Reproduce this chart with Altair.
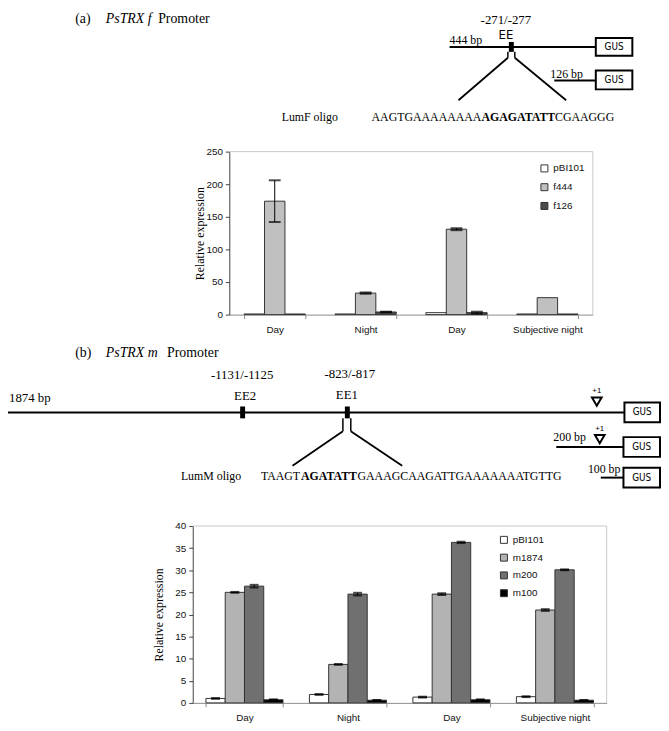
import altair as alt
import pandas as pd

# ------------------------------------------------------------------ data
conditions = ["D1", "N1", "D2", "SN"]
condition_names = ["Day", "Night", "Day", "Subjective night"]

# panel (a): PsTRX f promoter constructs
a_series = ["pBI101", "f444", "f126"]
a_pbi101 = [1, 1, 3, 1]
a_f444 = [174, 33, 131, 26]
a_f126 = [1, 4, 3, 1]
a_pbi101_err = [0, 0, 0, 0]
a_f444_err = [32, 1, 1.5, 0]
a_f126_err = [0, 0.5, 1.5, 0]
a_yticks = [0, 50, 100, 150, 200, 250]

# panel (b): PsTRX m promoter constructs
b_series = ["pBI101", "m1874", "m200", "m100"]
b_pbi101 = [1.0, 1.9, 1.3, 1.4]
b_m1874 = [25.0, 8.7, 24.6, 21.0]
b_m200 = [26.4, 24.6, 36.3, 30.1]
b_m100 = [0.7, 0.6, 0.7, 0.6]
b_pbi101_err = [0.1, 0.1, 0.1, 0.1]
b_m1874_err = [0.1, 0.1, 0.2, 0.2]
b_m200_err = [0.3, 0.3, 0.15, 0.1]
b_m100_err = [0.1, 0.05, 0.1, 0.05]
b_yticks = [0, 5, 10, 15, 20, 25, 30, 35, 40]

# diagram texts
head_a = ["(a)", "PsTRX f", "Promoter"]
head_b = ["(b)", "PsTRX m", "Promoter"]
seq_a = ["AAGTGAAAAAAAA", "AGAGATATT", "CGAAGGG"]
seq_b = ["TAAGT", "AGATATT", "GAAAGCAAGATTGAAAAAAATGTTG"]
seq_bold = [False, True, False]

# ------------------------------------------------------------------ styles / layout
W, H, M = 661, 715, 8
SERIF = "Liberation Serif, Times New Roman, serif"
SANS = "Liberation Sans, Arial, sans-serif"
NARROW = "Liberation Sans Narrow, DejaVu Sans Condensed, Liberation Sans, sans-serif"

label_expr = "".join(
    f"datum.value == '{c}' ? '{n}' : " for c, n in zip(conditions, condition_names)
) + "''"


def long_table(series, means, errs):
    rows = []
    for s, m, e in zip(series, means, errs):
        for c, v, d in zip(conditions, m, e):
            rows.append({"cond": c, "series": s, "value": v,
                         "lo": v - d, "hi": v + d, "err": d})
    return pd.DataFrame(rows)


df_a = long_table(a_series, [a_pbi101, a_f444, a_f126],
                  [a_pbi101_err, a_f444_err, a_f126_err])
df_b = long_table(b_series, [b_pbi101, b_m1874, b_m200, b_m100],
                  [b_pbi101_err, b_m1874_err, b_m200_err, b_m100_err])


def bar_chart(df, series, colors, xpix, ypix, ydom, yvals, pad, leg_xy,
              row_pad, title_cx, cap):
    left, right = xpix[0] - M, xpix[1] - M
    bottom, top = ypix[0] - M, ypix[1] - M
    xs = alt.Scale(domain=conditions, range=[left, right],
                   paddingInner=pad, paddingOuter=pad / 2)
    ys = alt.Scale(domain=ydom, range=[bottom, top], nice=False, zero=True)
    xaxis = alt.Axis(orient="bottom", offset=bottom - H, title=None,
                     labelExpr=label_expr, labelAngle=0, tickBand="extent",
                     tickSize=4, labelPadding=6, labelFont=SANS,
                     labelFontSize=10, labelColor="#111",
                     domainColor="#8a8a8a", tickColor="#8a8a8a", grid=False)
    yaxis = alt.Axis(orient="left", offset=-left, values=yvals,
                     title="Relative expression", titleFont=SERIF,
                     titleFontSize=12, titleFontWeight="normal",
                     titleColor="black", titleX=title_cx - xpix[0],
                     titleY=(top + bottom) / 2, titleAngle=270,
                     titleAlign="center", titleBaseline="middle",
                     tickSize=4, labelPadding=3, labelFont=SANS,
                     labelFontSize=10, labelColor="#111",
                     domainColor="#404040", tickColor="#404040", grid=False)
    X = alt.X("cond:N", scale=xs, sort=conditions, axis=xaxis)
    XO = alt.XOffset("series:N", scale=alt.Scale(domain=series), sort=series)

    frame = pd.DataFrame({"y0": [ydom[0]], "y1": [ydom[1]]})
    ftop = alt.Chart(frame).mark_rule(color="#c8c8c8", strokeWidth=1).encode(
        y=alt.Y("y1:Q", scale=ys, axis=yaxis),
        x=alt.value(left), x2=alt.value(right))
    fright = alt.Chart(frame).mark_rule(color="#c8c8c8", strokeWidth=1).encode(
        x=alt.value(right), y=alt.Y("y0:Q", scale=ys, axis=yaxis), y2="y1:Q")

    base = alt.Chart(df)
    bars = base.mark_bar(stroke="#333333", strokeWidth=1).encode(
        x=X, xOffset=XO, y=alt.Y("value:Q", scale=ys, axis=yaxis),
        color=alt.Color("series:N", sort=series,
                        scale=alt.Scale(domain=series, range=colors),
                        legend=alt.Legend(title=None, orient="none",
                                          legendX=leg_xy[0] - M,
                                          legendY=leg_xy[1] - M,
                                          symbolType="square", symbolSize=50,
                                          symbolStrokeColor="#333333",
                                          symbolStrokeWidth=1,
                                          labelFont=SANS, labelFontSize=10,
                                          labelColor="#111", rowPadding=row_pad,
                                          padding=0, labelOffset=4)))
    eb = base.transform_filter("datum.err > 0")
    rule = eb.mark_rule(color="black", strokeWidth=1).encode(
        x=X, xOffset=XO, y=alt.Y("lo:Q", scale=ys, axis=yaxis), y2="hi:Q")
    cap_hi = eb.mark_tick(color="black", size=cap, thickness=2).encode(
        x=X, xOffset=XO, y=alt.Y("hi:Q", scale=ys, axis=yaxis))
    cap_lo = eb.mark_tick(color="black", size=cap, thickness=2).encode(
        x=X, xOffset=XO, y=alt.Y("lo:Q", scale=ys, axis=yaxis))
    return alt.layer(ftop, fright, bars, rule, cap_lo, cap_hi)


chart_a = bar_chart(df_a, a_series, ["#ffffff", "#c0c0c0", "#4a4a4a"],
                    (232, 600), (314, 149), [0, 250], a_yticks, 0.326,
                    (546, 161), 7, 202, 12)
chart_b = bar_chart(df_b, b_series, ["#ffffff", "#b3b3b3", "#707070", "#000000"],
                    (195, 614), (707, 528), [0, 40], b_yticks, 0.255,
                    (505, 537), 6, 160, 9)

# ------------------------------------------------------------------ diagrams
CX = alt.Scale(domain=[0, 669], range=[-M, 669 - M], zero=False, nice=False)
CY = alt.Scale(domain=[0, 731], range=[-M, 731 - M], zero=False, nice=False)


def cx(f):
    return alt.X(f, scale=CX, axis=None)


def cy(f):
    return alt.Y(f, scale=CY, axis=None)


rules = pd.DataFrame([
    (455, 43, 603, 43, 2), (561, 77, 603, 77, 2),
    (514, 48, 514, 54, 1.5), (521, 48, 521, 54, 1.5),
    (514, 54, 464, 97, 1.8), (521, 54, 573, 97, 1.8),
    (0, 413, 632, 413, 2),
    (347, 419, 347, 432, 1.5), (355, 419, 355, 432, 1.5),
    (347, 432, 296, 467, 1.8), (355, 432, 407, 467, 1.8),
    (563, 448, 631, 448, 2), (608, 479, 631, 479, 2),
], columns=["x", "y", "x2", "y2", "w"])

rects = pd.DataFrame([
    (515, 38, 520, 48, "black", 0), (603, 34, 640, 52, "white", 2),
    (603, 67, 640, 86, "white", 2),
    (243, 407, 248, 419, "black", 0), (349, 407, 354, 419, "black", 0),
    (632, 403, 668, 423, "white", 2), (631, 438, 668, 458, "white", 2),
    (631, 469, 668, 489, "white", 2),
], columns=["x", "y", "x2", "y2", "fill", "w"])

tris = pd.DataFrame({"x": [604, 607], "y": [402, 440]})

# Times metrics (per em) to place the bold run of each oligo sequence
TIMES = {False: {"A": .722, "C": .667, "G": .722, "T": .611},
         True: {"A": .70, "C": .70, "G": .74, "T": .64}}


def seq_rows(parts, x0, y, size=12):
    rows, x = [], x0
    for p, b in zip(parts, seq_bold):
        rows.append({"x": x, "y": y, "t": p, "b": b})
        x += sum(TIMES[b][ch] for ch in p) * size
    return rows


seq = pd.DataFrame(seq_rows(seq_a, 376, 114) + seq_rows(seq_b, 264, 477))


def texts(rows, font, size, align="left", style="normal", weight="normal",
          color="black"):
    d = pd.DataFrame(rows, columns=["t", "x", "y"])
    return alt.Chart(d).mark_text(font=font, fontSize=size, align=align,
                                  baseline="middle", fontStyle=style,
                                  fontWeight=weight, color=color).encode(
        x=cx("x:Q"), y=cy("y:Q"), text="t:N")


diag = alt.layer(
    alt.Chart(rules).mark_rule(color="black").encode(
        x=cx("x:Q"), y=cy("y:Q"), x2="x2:Q", y2="y2:Q",
        strokeWidth=alt.StrokeWidth("w:Q", scale=None)),
    alt.Chart(rects).mark_rect(stroke="black").encode(
        x=cx("x:Q"), y=cy("y:Q"), x2="x2:Q", y2="y2:Q",
        fill=alt.Fill("fill:N", scale=None),
        strokeWidth=alt.StrokeWidth("w:Q", scale=None)),
    alt.Chart(tris).mark_point(shape="triangle-down", filled=False, size=95,
                               strokeWidth=2, color="black", opacity=1).encode(
        x=cx("x:Q"), y=cy("y:Q")),
    texts([(head_a[0], 76, 15), (head_a[2], 160, 15),
           (head_b[0], 76, 353), (head_b[2], 169, 353)], SERIF, 14),
    texts([(head_a[1], 107, 15), (head_b[1], 107, 353)], SERIF, 14,
          style="italic"),
    texts([("-271/-277", 512, 16), ("-1131/-1125", 245, 375),
           ("-823/-817", 354, 374), ("EE2", 248, 396), ("EE1", 351, 395)],
          SERIF, 13, align="center"),
    texts([("444 bp", 455, 36), ("126 bp", 557, 70), ("LumF oligo", 285, 114),
           ("200 bp", 560, 438), ("100 bp", 595, 470),
           ("LumM oligo", 183, 477)], SERIF, 12),
    texts([("1874 bp", 9, 398)], SERIF, 13),
    texts([("EE", 512, 31)], NARROW, 13, align="center"),
    texts([("GUS", 621.5, 43), ("GUS", 621.5, 76.5), ("GUS", 650, 413),
           ("GUS", 649.5, 448), ("GUS", 649.5, 479)], NARROW, 10,
          align="center"),
    texts([("+1", 604, 391), ("+1", 607, 430)], SANS, 8, align="center"),
    alt.Chart(seq).transform_filter("!datum.b").mark_text(
        font=SERIF, fontSize=12, align="left", baseline="middle",
        color="black").encode(x=cx("x:Q"), y=cy("y:Q"), text="t:N"),
    alt.Chart(seq).transform_filter("datum.b").mark_text(
        font=SERIF, fontSize=12, align="left", baseline="middle",
        fontWeight="bold", color="black").encode(
        x=cx("x:Q"), y=cy("y:Q"), text="t:N"),
)

chart = alt.layer(diag, chart_a, chart_b).resolve_scale(
    x="independent", y="independent", xOffset="independent",
    color="independent", fill="independent", strokeWidth="independent"
).resolve_legend(color="independent").properties(
    width=W, height=H, padding=0,
    autosize=alt.AutoSizeParams(type="none"),
    view=alt.ViewBackground(stroke=None, strokeWidth=0)
).configure_view(stroke=None, strokeWidth=0).configure(
    font=SANS, background="white")

chart.save("out.html", embed_options={"renderer": "svg", "actions": False})
